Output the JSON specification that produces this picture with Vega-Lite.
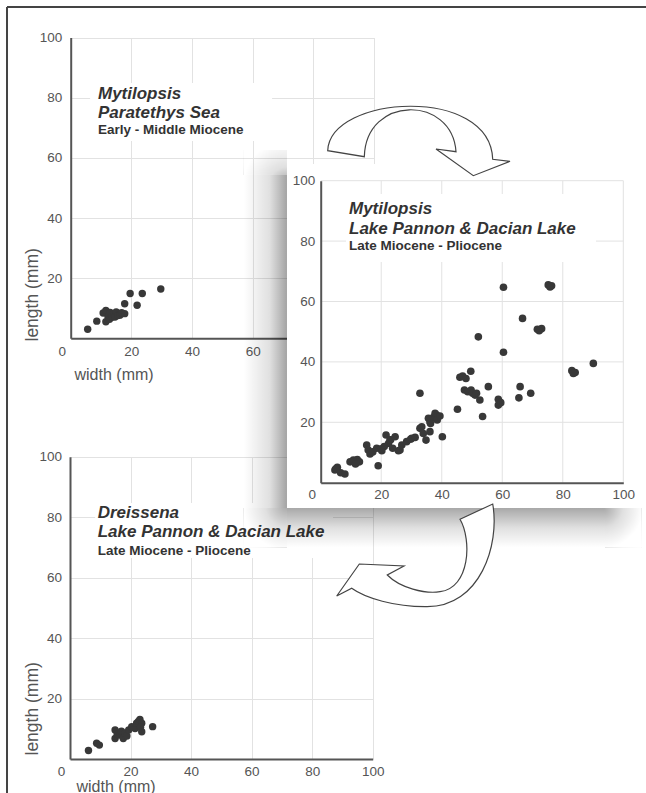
{
  "$schema": "https://vega.github.io/schema/vega-lite/v6.json",
  "width": 639,
  "height": 786,
  "autosize": {"type": "none"},
  "padding": {"left": 7, "top": 7, "right": 0, "bottom": 0},
  "background": "white",
  "config": {
    "view": {"stroke": null},
    "font": "Liberation Sans",
    "axis": {
      "labelFont": "Liberation Sans",
      "labelFontSize": 13.5,
      "labelColor": "#555",
      "domainColor": "#555",
      "domainWidth": 2,
      "ticks": false,
      "gridColor": "#e2e2e2",
      "gridWidth": 1,
      "titleFont": "Liberation Sans",
      "titleFontSize": 16,
      "titleFontWeight": "normal",
      "titleColor": "#555",
      "labelFlush": false,
      "labelOverlap": false
    }
  },
  "datasets": {
    "tl": [
      {"width": 5.6, "length": 3.0}, {"width": 8.6, "length": 5.7}, {"width": 10.7, "length": 8.4}, {"width": 11.6, "length": 9.3},
      {"width": 11.6, "length": 5.5}, {"width": 12.3, "length": 7.2}, {"width": 12.8, "length": 6.3}, {"width": 13.0, "length": 8.6},
      {"width": 13.6, "length": 7.0}, {"width": 14.2, "length": 8.2}, {"width": 14.6, "length": 7.1}, {"width": 15.0, "length": 8.8},
      {"width": 15.6, "length": 7.6}, {"width": 16.2, "length": 7.7}, {"width": 16.8, "length": 8.5}, {"width": 17.8, "length": 8.2},
      {"width": 17.8, "length": 11.5}, {"width": 19.6, "length": 14.9}, {"width": 21.9, "length": 11.0}, {"width": 23.6, "length": 14.9},
      {"width": 29.7, "length": 16.4}
    ],
    "bl": [
      {"width": 6.1, "length": 2.8}, {"width": 8.8, "length": 5.2}, {"width": 9.7, "length": 4.6}, {"width": 14.9, "length": 9.6},
      {"width": 14.9, "length": 6.8}, {"width": 15.6, "length": 8.2}, {"width": 16.5, "length": 7.9}, {"width": 17.0, "length": 9.2},
      {"width": 17.6, "length": 6.8}, {"width": 18.2, "length": 8.5}, {"width": 18.8, "length": 7.6}, {"width": 19.4, "length": 9.6},
      {"width": 20.4, "length": 10.7}, {"width": 21.5, "length": 10.1}, {"width": 22.0, "length": 11.8}, {"width": 22.6, "length": 12.4},
      {"width": 23.1, "length": 13.1}, {"width": 23.7, "length": 11.8}, {"width": 23.7, "length": 9.0}, {"width": 23.3, "length": 10.5},
      {"width": 27.3, "length": 10.7}
    ],
    "m": [
      {"width": 60.4, "length": 64.7}, {"width": 75.2, "length": 65.5}, {"width": 76.3, "length": 65.2}, {"width": 75.8, "length": 64.8},
      {"width": 66.7, "length": 54.4}, {"width": 52.1, "length": 48.3}, {"width": 71.6, "length": 50.8}, {"width": 73.0, "length": 51.0},
      {"width": 72.2, "length": 50.3}, {"width": 60.4, "length": 43.2}, {"width": 83.0, "length": 37.1}, {"width": 84.1, "length": 36.5},
      {"width": 83.5, "length": 36.2}, {"width": 90.1, "length": 39.5}, {"width": 32.8, "length": 29.6}, {"width": 46.0, "length": 34.9},
      {"width": 46.9, "length": 35.3}, {"width": 48.0, "length": 34.5}, {"width": 49.6, "length": 36.9}, {"width": 47.5, "length": 30.7},
      {"width": 48.6, "length": 30.1}, {"width": 49.7, "length": 30.7}, {"width": 50.2, "length": 29.6}, {"width": 51.0, "length": 29.0},
      {"width": 51.5, "length": 29.6}, {"width": 52.6, "length": 27.4}, {"width": 55.4, "length": 31.8}, {"width": 58.7, "length": 27.6},
      {"width": 58.7, "length": 25.7}, {"width": 59.5, "length": 26.5}, {"width": 65.9, "length": 31.8}, {"width": 65.5, "length": 28.1},
      {"width": 69.4, "length": 29.6}, {"width": 53.5, "length": 21.9}, {"width": 45.2, "length": 24.3},
      {"width": 4.7, "length": 4.2}, {"width": 5.5, "length": 5.1}, {"width": 6.6, "length": 3.3}, {"width": 8.0, "length": 2.9},
      {"width": 5.0, "length": 4.6}, {"width": 9.7, "length": 6.9}, {"width": 10.8, "length": 7.5}, {"width": 12.1, "length": 7.7},
      {"width": 12.8, "length": 6.9}, {"width": 11.5, "length": 6.2}, {"width": 15.2, "length": 12.5}, {"width": 15.7, "length": 10.8},
      {"width": 16.3, "length": 9.5}, {"width": 17.2, "length": 10.2}, {"width": 19.0, "length": 5.6}, {"width": 18.5, "length": 11.4},
      {"width": 20.2, "length": 10.6}, {"width": 21.6, "length": 15.8}, {"width": 22.4, "length": 13.0}, {"width": 23.1, "length": 14.2},
      {"width": 23.8, "length": 11.4}, {"width": 22.9, "length": 14.1}, {"width": 24.6, "length": 15.2}, {"width": 25.7, "length": 10.6},
      {"width": 26.2, "length": 10.8}, {"width": 26.8, "length": 12.5}, {"width": 28.4, "length": 13.6}, {"width": 29.7, "length": 14.4},
      {"width": 30.1, "length": 14.7}, {"width": 31.2, "length": 15.0}, {"width": 32.8, "length": 18.0}, {"width": 33.4, "length": 18.5},
      {"width": 33.9, "length": 16.3}, {"width": 34.8, "length": 14.1}, {"width": 36.1, "length": 20.2}, {"width": 37.2, "length": 21.6},
      {"width": 38.3, "length": 22.4}, {"width": 35.6, "length": 21.3}, {"width": 36.3, "length": 19.6}, {"width": 37.8, "length": 23.0},
      {"width": 38.5, "length": 20.8}, {"width": 39.4, "length": 22.1}, {"width": 36.1, "length": 16.9}, {"width": 40.2, "length": 15.2},
      {"width": 21.0, "length": 12.0}, {"width": 20.0, "length": 11.2}
    ],
    "grid": [{"v": 20}, {"v": 40}, {"v": 60}, {"v": 80}, {"v": 100}],
    "titles": [
      {"panel": "TL", "kind": "main", "label": "Mytilopsis", "x": 9.0, "y": 79.7},
      {"panel": "TL", "kind": "main", "label": "Paratethys Sea", "x": 9.0, "y": 73.1},
      {"panel": "TL", "kind": "sub", "label": "Early - Middle Miocene", "x": 9.0, "y": 67.8},
      {"panel": "M", "kind": "main", "label": "Mytilopsis", "x": 9.35, "y": 89.0},
      {"panel": "M", "kind": "main", "label": "Lake Pannon & Dacian Lake", "x": 9.35, "y": 82.5},
      {"panel": "M", "kind": "sub", "label": "Late Miocene - Pliocene", "x": 9.35, "y": 77.2},
      {"panel": "BL", "kind": "main", "label": "Dreissena", "x": 9.15, "y": 79.6},
      {"panel": "BL", "kind": "main", "label": "Lake Pannon & Dacian Lake", "x": 9.15, "y": 73.3},
      {"panel": "BL", "kind": "sub", "label": "Late Miocene - Pliocene", "x": 9.15, "y": 67.5}
    ]
  },
  "layer": [
    {
      "resolve": {"axis": {"x": "independent", "y": "independent"}},
      "layer": [
        {
          "data": {"values": [{}]},
          "mark": {"type": "rule", "color": "#444", "strokeWidth": 2},
          "encoding": {
            "x": {"datum": -21.0, "type": "quantitative", "scale": {"domain": [0, 100], "range": [63.7, 367], "nice": false, "zero": false}, "axis": null},
            "x2": {"datum": 189.7},
            "y": {"datum": 110.18, "type": "quantitative", "scale": {"domain": [0, 100], "range": [331.3, 30.6], "nice": false, "zero": false}, "axis": null}
          }
        },
        {
          "data": {"values": [{}]},
          "mark": {"type": "rule", "color": "#444", "strokeWidth": 2},
          "encoding": {
            "x": {"datum": -21.0, "type": "quantitative", "scale": {"domain": [0, 100], "range": [63.7, 367], "nice": false, "zero": false}, "axis": null},
            "y": {"datum": 110.18, "type": "quantitative", "scale": {"domain": [0, 100], "range": [331.3, 30.6], "nice": false, "zero": false}, "axis": null},
            "y2": {"datum": -152}
          }
        },
        {
          "data": {"values": [{}]},
          "mark": {"type": "rect", "fill": "white"},
          "encoding": {
            "x": {"datum": 6.4, "type": "quantitative", "scale": {"domain": [0, 100], "range": [63.7, 367], "nice": false, "zero": false}, "axis": null},
            "x2": {"datum": 66.4},
            "y": {"datum": 84.9, "type": "quantitative", "scale": {"domain": [0, 100], "range": [331.3, 30.6], "nice": false, "zero": false}, "axis": null},
            "y2": {"datum": 65.6}
          }
        },
        {
          "data": {"name": "tl"},
          "mark": {"type": "circle", "size": 55, "color": "#383838", "opacity": 1},
          "encoding": {
            "x": {"field": "width", "type": "quantitative",
              "scale": {"domain": [0, 100], "range": [63.7, 367], "nice": false, "zero": false},
              "axis": {"orient": "bottom", "offset": -454.7, "grid": false, "values": [0, 20, 40, 60], "labelPadding": 6,
                "labelOffset": {"condition": {"test": "datum.value === 0", "value": -9}, "value": 0},
                "title": "width (mm)", "titleX": 67, "titleY": 41, "titleAlign": "left", "titleAnchor": "start", "titleBaseline": "alphabetic", "zindex": 0}},
            "y": {"field": "length", "type": "quantitative",
              "scale": {"domain": [0, 100], "range": [331.3, 30.6], "nice": false, "zero": false},
              "axis": {"orient": "left", "offset": -63.7, "grid": true, "values": [20, 40, 60, 80, 100], "labelPadding": 9,
                "title": "length (mm)", "titleX": -38, "titleY": 334, "titleAngle": 270, "titleAlign": "left", "titleBaseline": "middle", "titleFontSize": 17.5, "zindex": 0}}
          }
        },
        {
          "data": {"name": "titles"},
          "transform": [{"filter": "datum.panel === 'TL' && datum.kind === 'main'"}],
          "mark": {"type": "text", "align": "left", "baseline": "alphabetic", "font": "Liberation Sans", "fontSize": 17, "fontWeight": "bold", "fontStyle": "italic", "color": "#333"},
          "encoding": {
            "x": {"field": "x", "type": "quantitative",
              "scale": {"domain": [0, 100], "range": [63.7, 367], "nice": false, "zero": false},
              "axis": {"orient": "top", "offset": 0, "grid": true, "domain": false, "labels": false, "ticks": false, "title": null, "values": [20, 40, 60, 80, 100], "zindex": 0}},
            "y": {"field": "y", "type": "quantitative",
              "scale": {"domain": [0, 100], "range": [331.3, 30.6], "nice": false, "zero": false}, "axis": null},
            "text": {"field": "label"}
          }
        },
        {
          "data": {"name": "titles"},
          "transform": [{"filter": "datum.panel === 'TL' && datum.kind === 'sub'"}],
          "mark": {"type": "text", "align": "left", "baseline": "alphabetic", "font": "Liberation Sans", "fontSize": 13.5, "fontWeight": "bold", "color": "#333"},
          "encoding": {
            "x": {"field": "x", "type": "quantitative",
              "scale": {"domain": [0, 100], "range": [63.7, 367], "nice": false, "zero": false}, "axis": null},
            "y": {"field": "y", "type": "quantitative",
              "scale": {"domain": [0, 100], "range": [331.3, 30.6], "nice": false, "zero": false}, "axis": null},
            "text": {"field": "label"}
          }
        }
      ]
    },
    {
      "resolve": {"axis": {"x": "independent", "y": "independent"}},
      "layer": [
        {
          "data": {"values": [{}]},
          "mark": {"type": "rect", "fill": "white"},
          "encoding": {
            "x": {"datum": 8.3, "type": "quantitative", "scale": {"domain": [0, 100], "range": [63, 365.7], "nice": false, "zero": false}, "axis": null},
            "x2": {"datum": 86.9},
            "y": {"datum": 84.7, "type": "quantitative", "scale": {"domain": [0, 100], "range": [752, 449.7], "nice": false, "zero": false}, "axis": null},
            "y2": {"datum": 66.5}
          }
        },
        {
          "data": {"name": "bl"},
          "mark": {"type": "circle", "size": 55, "color": "#383838", "opacity": 1},
          "encoding": {
            "x": {"field": "width", "type": "quantitative",
              "scale": {"domain": [0, 100], "range": [63, 365.7], "nice": false, "zero": false},
              "axis": {"orient": "bottom", "offset": -34, "grid": false, "values": [0, 20, 40, 60, 80, 100], "labelPadding": 5.5,
                "labelOffset": {"condition": {"test": "datum.value === 0", "value": -9}, "value": 0},
                "title": "width (mm)", "titleX": 69, "titleY": 32, "titleAlign": "left", "titleAnchor": "start", "titleBaseline": "alphabetic", "zindex": 0}},
            "y": {"field": "length", "type": "quantitative",
              "scale": {"domain": [0, 100], "range": [752, 449.7], "nice": false, "zero": false},
              "axis": {"orient": "left", "offset": -63, "grid": true, "values": [20, 40, 60, 80, 100], "labelPadding": 8.5,
                "title": "length (mm)", "titleX": -38, "titleY": 748, "titleAngle": 270, "titleAlign": "left", "titleBaseline": "middle", "titleFontSize": 17.5, "zindex": 0}}
          }
        },
        {
          "data": {"name": "titles"},
          "transform": [{"filter": "datum.panel === 'BL' && datum.kind === 'main'"}],
          "mark": {"type": "text", "align": "left", "baseline": "alphabetic", "font": "Liberation Sans", "fontSize": 17, "fontWeight": "bold", "fontStyle": "italic", "color": "#333"},
          "encoding": {
            "x": {"field": "x", "type": "quantitative",
              "scale": {"domain": [0, 100], "range": [63, 365.7], "nice": false, "zero": false},
              "axis": {"orient": "top", "offset": 0, "grid": true, "domain": false, "labels": false, "ticks": false, "title": null, "values": [20, 40, 60, 80, 100], "zindex": 0}},
            "y": {"field": "y", "type": "quantitative",
              "scale": {"domain": [0, 100], "range": [752, 449.7], "nice": false, "zero": false}, "axis": null},
            "text": {"field": "label"}
          }
        },
        {
          "data": {"name": "titles"},
          "transform": [{"filter": "datum.panel === 'BL' && datum.kind === 'sub'"}],
          "mark": {"type": "text", "align": "left", "baseline": "alphabetic", "font": "Liberation Sans", "fontSize": 13.5, "fontWeight": "bold", "color": "#333"},
          "encoding": {
            "x": {"field": "x", "type": "quantitative",
              "scale": {"domain": [0, 100], "range": [63, 365.7], "nice": false, "zero": false}, "axis": null},
            "y": {"field": "y", "type": "quantitative",
              "scale": {"domain": [0, 100], "range": [752, 449.7], "nice": false, "zero": false}, "axis": null},
            "text": {"field": "label"}
          }
        }
      ]
    },
    {
      "resolve": {"axis": {"x": "independent", "y": "independent"}},
      "layer": [
        {
          "data": {"values": [{}]},
          "mark": {"type": "rect", "fill": {"gradient": "radial", "x1": 1, "y1": 1, "r1": 0, "x2": 1, "y2": 1, "r2": 1,
            "stops": [{"offset": 0, "color": "rgba(0,0,0,0.36)"}, {"offset": 0.4, "color": "rgba(0,0,0,0.12)"}, {"offset": 1, "color": "rgba(0,0,0,0)"}]}},
          "encoding": {
            "x": {"datum": -25.5, "type": "quantitative", "scale": {"domain": [0, 100], "range": [313.7, 616.3], "nice": false, "zero": false}, "axis": null},
            "x2": {"datum": -11.14},
            "y": {"datum": 110.2, "type": "quantitative", "scale": {"domain": [0, 100], "range": [475.7, 173.7], "nice": false, "zero": false}, "axis": null},
            "y2": {"datum": 101.9}
          }
        },
        {
          "data": {"values": [{}]},
          "mark": {"type": "rect", "fill": {"gradient": "linear", "x1": 0, "y1": 0, "x2": 1, "y2": 0,
            "stops": [{"offset": 0, "color": "rgba(0,0,0,0)"}, {"offset": 0.6, "color": "rgba(0,0,0,0.12)"}, {"offset": 1, "color": "rgba(0,0,0,0.36)"}]}},
          "encoding": {
            "x": {"datum": -25.5, "type": "quantitative", "scale": {"domain": [0, 100], "range": [313.7, 616.3], "nice": false, "zero": false}, "axis": null},
            "x2": {"datum": -11.14},
            "y": {"datum": 101.9, "type": "quantitative", "scale": {"domain": [0, 100], "range": [475.7, 173.7], "nice": false, "zero": false}, "axis": null},
            "y2": {"datum": -8.38}
          }
        },
        {
          "data": {"values": [{}]},
          "mark": {"type": "rect", "fill": {"gradient": "radial", "x1": 1, "y1": 0, "r1": 0, "x2": 1, "y2": 0, "r2": 1,
            "stops": [{"offset": 0, "color": "rgba(0,0,0,0.34)"}, {"offset": 0.5, "color": "rgba(0,0,0,0.12)"}, {"offset": 1, "color": "rgba(0,0,0,0)"}]}},
          "encoding": {
            "x": {"datum": -25.5, "type": "quantitative", "scale": {"domain": [0, 100], "range": [313.7, 616.3], "nice": false, "zero": false}, "axis": null},
            "x2": {"datum": -11.14},
            "y": {"datum": -8.38, "type": "quantitative", "scale": {"domain": [0, 100], "range": [475.7, 173.7], "nice": false, "zero": false}, "axis": null},
            "y2": {"datum": -21.5}
          }
        },
        {
          "data": {"values": [{}]},
          "mark": {"type": "rect", "fill": {"gradient": "linear", "x1": 0, "y1": 0, "x2": 0, "y2": 1,
            "stops": [{"offset": 0, "color": "rgba(0,0,0,0.34)"}, {"offset": 0.5, "color": "rgba(0,0,0,0.12)"}, {"offset": 1, "color": "rgba(0,0,0,0)"}]}},
          "encoding": {
            "x": {"datum": -11.14, "type": "quantitative", "scale": {"domain": [0, 100], "range": [313.7, 616.3], "nice": false, "zero": false}, "axis": null},
            "x2": {"datum": 93.95},
            "y": {"datum": -8.38, "type": "quantitative", "scale": {"domain": [0, 100], "range": [475.7, 173.7], "nice": false, "zero": false}, "axis": null},
            "y2": {"datum": -21.5}
          }
        },
        {
          "data": {"values": [{}]},
          "mark": {"type": "rect", "fill": {"gradient": "radial", "x1": 0, "y1": 0, "r1": 0, "x2": 0, "y2": 0, "r2": 1,
            "stops": [{"offset": 0, "color": "rgba(0,0,0,0.34)"}, {"offset": 0.5, "color": "rgba(0,0,0,0.12)"}, {"offset": 1, "color": "rgba(0,0,0,0)"}]}},
          "encoding": {
            "x": {"datum": 93.95, "type": "quantitative", "scale": {"domain": [0, 100], "range": [313.7, 616.3], "nice": false, "zero": false}, "axis": null},
            "x2": {"datum": 106.0},
            "y": {"datum": -8.38, "type": "quantitative", "scale": {"domain": [0, 100], "range": [475.7, 173.7], "nice": false, "zero": false}, "axis": null},
            "y2": {"datum": -21.5}
          }
        },
        {
          "data": {"values": [{}]},
          "mark": {"type": "rect", "fill": "white"},
          "encoding": {
            "x": {"datum": -11.14, "type": "quantitative", "scale": {"domain": [0, 100], "range": [313.7, 616.3], "nice": false, "zero": false}, "axis": null},
            "x2": {"datum": 106.2},
            "y": {"datum": 105.5, "type": "quantitative", "scale": {"domain": [0, 100], "range": [475.7, 173.7], "nice": false, "zero": false}, "axis": null},
            "y2": {"datum": -8.38}
          }
        },
        {
          "data": {"name": "grid"},
          "mark": {"type": "rule", "color": "#e2e2e2", "strokeWidth": 1},
          "encoding": {
            "x": {"field": "v", "type": "quantitative", "scale": {"domain": [0, 100], "range": [313.7, 616.3], "nice": false, "zero": false}, "axis": null},
            "y": {"datum": 0, "type": "quantitative", "scale": {"domain": [0, 100], "range": [475.7, 173.7], "nice": false, "zero": false}, "axis": null},
            "y2": {"datum": 100}
          }
        },
        {
          "data": {"name": "grid"},
          "mark": {"type": "rule", "color": "#e2e2e2", "strokeWidth": 1},
          "encoding": {
            "y": {"field": "v", "type": "quantitative", "scale": {"domain": [0, 100], "range": [475.7, 173.7], "nice": false, "zero": false}, "axis": null},
            "x": {"datum": 0, "type": "quantitative", "scale": {"domain": [0, 100], "range": [313.7, 616.3], "nice": false, "zero": false}, "axis": null},
            "x2": {"datum": 100}
          }
        },
        {
          "data": {"values": [{}]},
          "mark": {"type": "rect", "fill": "white"},
          "encoding": {
            "x": {"datum": 8.36, "type": "quantitative", "scale": {"domain": [0, 100], "range": [313.7, 616.3], "nice": false, "zero": false}, "axis": null},
            "x2": {"datum": 90.98},
            "y": {"datum": 95.6, "type": "quantitative", "scale": {"domain": [0, 100], "range": [475.7, 173.7], "nice": false, "zero": false}, "axis": null},
            "y2": {"datum": 73.1}
          }
        },
        {
          "data": {"name": "m"},
          "mark": {"type": "circle", "size": 58, "color": "#383838", "opacity": 1},
          "encoding": {
            "x": {"field": "width", "type": "quantitative",
              "scale": {"domain": [0, 100], "range": [313.7, 616.3], "nice": false, "zero": false},
              "axis": {"orient": "bottom", "offset": -310.3, "grid": false, "values": [0, 20, 40, 60, 80, 100], "labelPadding": 5,
                "labelOffset": {"condition": {"test": "datum.value === 0", "value": -9}, "value": 0},
                "title": null, "zindex": 1}},
            "y": {"field": "length", "type": "quantitative",
              "scale": {"domain": [0, 100], "range": [475.7, 173.7], "nice": false, "zero": false},
              "axis": {"orient": "left", "offset": -313.7, "grid": false, "values": [20, 40, 60, 80, 100], "labelPadding": 6, "title": null, "zindex": 1}}
          }
        },
        {
          "data": {"name": "titles"},
          "transform": [{"filter": "datum.panel === 'M' && datum.kind === 'main'"}],
          "mark": {"type": "text", "align": "left", "baseline": "alphabetic", "font": "Liberation Sans", "fontSize": 17, "fontWeight": "bold", "fontStyle": "italic", "color": "#333"},
          "encoding": {
            "x": {"field": "x", "type": "quantitative",
              "scale": {"domain": [0, 100], "range": [313.7, 616.3], "nice": false, "zero": false}, "axis": null},
            "y": {"field": "y", "type": "quantitative",
              "scale": {"domain": [0, 100], "range": [475.7, 173.7], "nice": false, "zero": false}, "axis": null},
            "text": {"field": "label"}
          }
        },
        {
          "data": {"name": "titles"},
          "transform": [{"filter": "datum.panel === 'M' && datum.kind === 'sub'"}],
          "mark": {"type": "text", "align": "left", "baseline": "alphabetic", "font": "Liberation Sans", "fontSize": 13.5, "fontWeight": "bold", "color": "#333"},
          "encoding": {
            "x": {"field": "x", "type": "quantitative",
              "scale": {"domain": [0, 100], "range": [313.7, 616.3], "nice": false, "zero": false}, "axis": null},
            "y": {"field": "y", "type": "quantitative",
              "scale": {"domain": [0, 100], "range": [475.7, 173.7], "nice": false, "zero": false}, "axis": null},
            "text": {"field": "label"}
          }
        },
        {
          "data": {"values": [{}]},
          "mark": {"type": "point", "filled": true, "fill": "white", "stroke": "#444", "strokeWidth": 1.2, "opacity": 1, "size": 4,
            "shape": "M-92.3,10.7C-90,-45,70,-55,72.7,19.3L90,21.3L53.3,35.7L16,9L36,11.7C32,-45,-54,-45,-55.7,16.7Z"},
          "encoding": {
            "x": {"datum": 32.82, "type": "quantitative", "scale": {"domain": [0, 100], "range": [313.7, 616.3], "nice": false, "zero": false}, "axis": null},
            "y": {"datum": 113.48, "type": "quantitative", "scale": {"domain": [0, 100], "range": [475.7, 173.7], "nice": false, "zero": false}, "axis": null}
          }
        },
        {
          "data": {"values": [{}]},
          "mark": {"type": "point", "filled": true, "fill": "white", "stroke": "#444", "strokeWidth": 1.2, "opacity": 1, "size": 4,
            "shape": "M40,-40.7L72.7,-56C80,-15,60,47,6.7,46.7C-25,47,-55,38,-68.3,28.3L-83.3,36L-60.7,4L-16,6L-32.7,15C-20,28,5,34,20,31.7C50,28,52,-20,40,-40.7Z"},
          "encoding": {
            "x": {"datum": 32.82, "type": "quantitative", "scale": {"domain": [0, 100], "range": [313.7, 616.3], "nice": false, "zero": false}, "axis": null},
            "y": {"datum": -25.6, "type": "quantitative", "scale": {"domain": [0, 100], "range": [475.7, 173.7], "nice": false, "zero": false}, "axis": null}
          }
        }
      ]
    }
  ],
  "resolve": {"scale": {"x": "independent", "y": "independent"}}
}
